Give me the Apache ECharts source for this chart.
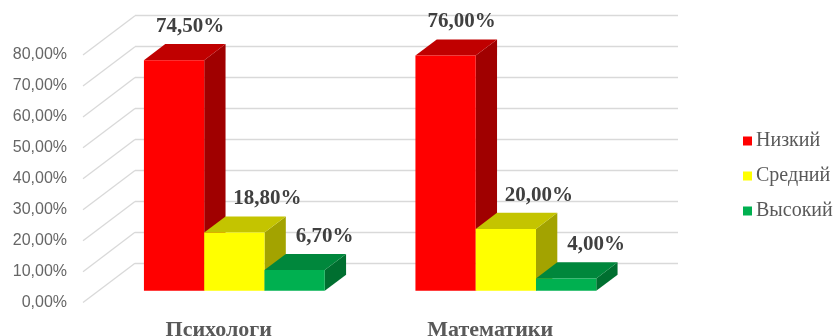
<!DOCTYPE html>
<html>
<head>
<meta charset="utf-8">
<script src="https://cdn.jsdelivr.net/npm/echarts@6/dist/echarts.min.js"></script>
<style>
  html, body { margin: 0; padding: 0; background: #fff; }
  #chart { width: 839px; height: 336px; }
</style>
</head>
<body>
<div id="chart"></div>
<script>
// Survey results: share of students by level, per group
const categories = ['Психологи', 'Математики'];
const seriesNames = ['Низкий', 'Средний', 'Высокий'];
const lowValues = [74.5, 76.0];
const midValues = [18.8, 20.0];
const highValues = [6.7, 4.0];
const valueLabels = [['74,50%', '76,00%'], ['18,80%', '20,00%'], ['6,70%', '4,00%']];
const yTicks = [0, 10, 20, 30, 40, 50, 60, 70, 80];
const yTickLabels = ['0,00%', '10,00%', '20,00%', '30,00%', '40,00%', '50,00%', '60,00%', '70,00%', '80,00%'];

// Oblique "3D" layout: back wall grid plus a front plane shifted by DEPTH
const DEPTH = { dx: -52, dy: 39.3 };
const BACK = { left: 135, top: 15.7, width: 543, height: 247.6 };
const FRONT = { left: BACK.left + DEPTH.dx, top: BACK.top + DEPTH.dy, width: BACK.width, height: BACK.height };
const BAR_FRONT = 0.70;   // depth fraction of bar front face
const BAR_BACK = 0.29;    // depth fraction of bar back face
const BAR_FRAC = 0.222;   // bar width as share of category band

const palette = [
  { front: '#FF0000', top: '#C00000', side: '#A00000', labelDx: 16 },
  { front: '#FFFF00', top: '#C4C400', side: '#A3A300', labelDx: 33 },
  { front: '#00B050', top: '#00873C', side: '#006F30', labelDx: 30 }
];
const allValues = [lowValues, midValues, highValues];

function barRenderer(idx) {
  return function (params, api) {
    const cat = api.value(0);
    const v = api.value(1);
    const base = api.coord([cat, 0]);
    const tip = api.coord([cat, v]);
    const band = api.size([1, 0])[0];
    const bw = band * BAR_FRAC;
    const x0 = base[0] - 1.5 * bw + idx * bw;
    const fx = DEPTH.dx * BAR_FRONT, fy = DEPTH.dy * BAR_FRONT;
    const bx = DEPTH.dx * BAR_BACK, by = DEPTH.dy * BAR_BACK;
    const c = palette[idx];
    const fl = x0 + fx, fr = x0 + bw + fx;
    const ft = tip[1] + fy, fb = base[1] + fy;
    const bl = x0 + bx, br = x0 + bw + bx;
    const bt = tip[1] + by, bb = base[1] + by;
    return {
      type: 'group',
      children: [
        { type: 'polygon', shape: { points: [[fr, ft], [br, bt], [br, bb], [fr, fb]] }, style: { fill: c.side } },
        { type: 'polygon', shape: { points: [[fl, ft], [fr, ft], [br, bt], [bl, bt]] }, style: { fill: c.top } },
        { type: 'rect', shape: { x: fl, y: ft, width: fr - fl, height: fb - ft }, style: { fill: c.front } },
        {
          type: 'text',
          style: {
            text: valueLabels[idx][cat],
            x: (fl + fr) / 2 + c.labelDx,
            y: bt - 17.5,
            align: 'center',
            verticalAlign: 'middle',
            font: 'bold 21px "Liberation Serif", "Times New Roman", serif',
            fill: '#404040'
          }
        }
      ]
    };
  };
}

const chart = echarts.init(document.getElementById('chart'), null, { renderer: 'canvas' });

const series = [
  {
    // side-wall grid lines running from the front labels to the back wall
    type: 'custom',
    xAxisIndex: 0, yAxisIndex: 0,
    silent: true,
    z: 1,
    data: yTicks.map(v => [0, v]),
    renderItem: function (params, api) {
      const y = api.coord([0, api.value(1)])[1];
      const x = params.coordSys.x;
      return {
        type: 'line',
        shape: { x1: x + DEPTH.dx, y1: y + DEPTH.dy, x2: x, y2: y },
        style: { stroke: '#d9d9d9', lineWidth: 1.3 }
      };
    }
  }
];
seriesNames.forEach((name, idx) => {
  series.push({
    name: name,
    type: 'custom',
    xAxisIndex: 0, yAxisIndex: 0,
    z: 3,
    itemStyle: { color: palette[idx].front },
    data: allValues[idx].map((v, i) => [i, v]),
    renderItem: barRenderer(idx)
  });
});

chart.setOption({
  animation: false,
  backgroundColor: '#ffffff',
  grid: [
    { left: BACK.left, top: BACK.top, width: BACK.width, height: BACK.height, containLabel: false, outerBoundsMode: 'none' },
    { left: FRONT.left, top: FRONT.top, width: FRONT.width, height: FRONT.height, containLabel: false, outerBoundsMode: 'none' }
  ],
  legend: {
    data: seriesNames,
    orient: 'vertical',
    left: 738,
    top: 126,
    itemWidth: 9,
    itemHeight: 9,
    itemGap: 15,
    icon: 'rect',
    textStyle: { fontFamily: '"Liberation Serif", "Times New Roman", serif', fontSize: 20, color: '#595959', padding: [0, 0, 0, -1] }
  },
  xAxis: [
    {
      gridIndex: 0, type: 'category', data: categories,
      axisLine: { show: false }, axisTick: { show: false }, axisLabel: { show: false }, splitLine: { show: false }
    },
    {
      gridIndex: 1, type: 'category', data: categories,
      axisLine: { show: false }, axisTick: { show: false }, splitLine: { show: false },
      axisLabel: {
        margin: 17,
        fontFamily: '"Liberation Serif", "Times New Roman", serif',
        fontWeight: 'bold', fontSize: 22, color: '#595959'
      }
    }
  ],
  yAxis: [
    {
      gridIndex: 0, type: 'value', min: 0, max: 80, interval: 10,
      axisLine: { show: false }, axisTick: { show: false }, axisLabel: { show: false },
      splitLine: { show: true, lineStyle: { color: '#d9d9d9', width: 1.3 } }
    },
    {
      gridIndex: 1, type: 'value', min: 0, max: 80, interval: 10,
      axisLine: { show: false }, axisTick: { show: false }, splitLine: { show: false },
      axisLabel: {
        margin: 16,
        verticalAlign: 'middle',
        fontFamily: '"Liberation Sans", Arial, sans-serif', fontSize: 16, color: '#666666',
        formatter: v => yTickLabels[yTicks.indexOf(v)]
      }
    }
  ],
  series: series
});
</script>
</body>
</html>
